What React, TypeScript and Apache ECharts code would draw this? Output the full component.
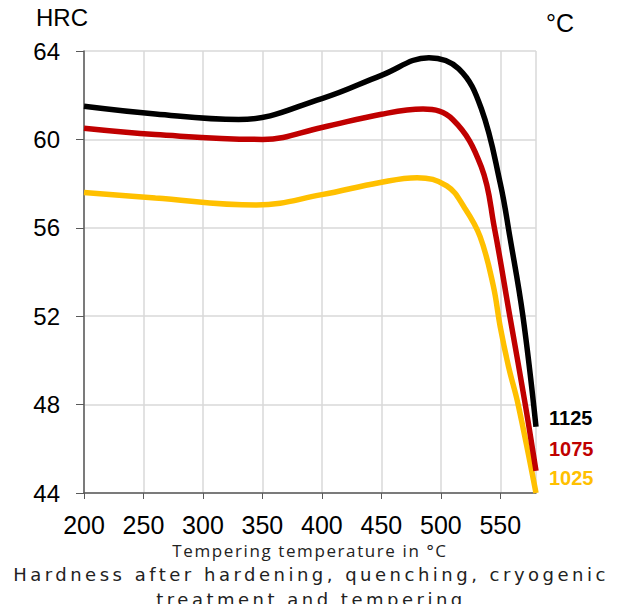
import React, { useEffect, useRef } from "react";
import * as echarts from "echarts";

const temps1125 = [200, 260, 330, 400, 450, 490, 515, 534, 550, 558, 569, 580];
const hrc1125 = [61.5, 61.15, 60.9, 61.85, 62.9, 63.7, 63.2, 61.4, 58.0, 55.6, 52.0, 47.0];

const temps1075 = [200, 260, 350, 400, 450, 485, 510, 534, 545, 558, 571, 580];
const hrc1075 = [60.5, 60.22, 60.0, 60.54, 61.14, 61.37, 60.9, 58.76, 56.0, 52.0, 48.0, 45.0];

const temps1025 = [200, 260, 345, 400, 448, 480, 505, 520, 533, 544, 550, 557, 565, 580];
const hrc1025 = [57.6, 57.35, 57.03, 57.5, 58.04, 58.27, 57.9, 56.9, 55.6, 53.4, 51.5, 49.7, 48.0, 44.0];

const seriesNames = ["1125", "1075", "1025"];
const seriesColors = ["#000000", "#c00000", "#ffc000"];
const labelOffsets = [-9, -22, -15];

const yTicks = { min: 44, max: 64, interval: 4 };
const xTicks = { min: 200, max: 580, interval: 50 };

const titleText = "Hardness after hardening, quenching, cryogenic\ntreatment and tempering";
const xAxisName = "Tempering temperature in °C";

function pairs(xs: number[], ys: number[]) {
  return xs.map((x, i) => [x, ys[i]]);
}

export default function App() {
  const ref = useRef<HTMLDivElement>(null);
  useEffect(() => {
    if (!ref.current) return;
    const chart = echarts.init(ref.current, undefined, { renderer: "svg" });
    const datasets = [
      pairs(temps1125, hrc1125),
      pairs(temps1075, hrc1075),
      pairs(temps1025, hrc1025),
    ];
    chart.setOption({
      animation: false,
      backgroundColor: "#ffffff",
      title: {
        text: titleText,
        left: "center",
        top: 557,
        textStyle: {
          fontFamily: "DejaVu Sans",
          fontSize: 18,
          fontWeight: "normal",
          color: "#222222",
          lineHeight: 25,
        },
      },
      grid: { left: 84, top: 51, right: 86, bottom: 119 },
      xAxis: {
        type: "value",
        min: xTicks.min,
        max: xTicks.max,
        interval: xTicks.interval,
        name: xAxisName,
        nameLocation: "middle",
        nameGap: 48,
        nameTextStyle: { fontFamily: "Open Sans", fontSize: 17, color: "#222222" },
        axisLine: { show: true, lineStyle: { color: "#595959", width: 1.5 } },
        axisTick: { show: true, length: 6, lineStyle: { color: "#595959" } },
        axisLabel: {
          showMaxLabel: false,
          fontFamily: "Liberation Sans",
          fontSize: 25,
          color: "#000000",
          margin: 19,
        },
        splitLine: { show: true, lineStyle: { color: "#d9d9d9", width: 1.5 } },
      },
      yAxis: {
        type: "value",
        min: yTicks.min,
        max: yTicks.max,
        interval: yTicks.interval,
        axisLine: { show: true, lineStyle: { color: "#595959", width: 1.5 } },
        axisTick: { show: true, length: 8, lineStyle: { color: "#595959" } },
        axisLabel: {
          fontFamily: "Liberation Sans",
          fontSize: 24,
          color: "#000000",
          margin: 24,
        },
        splitLine: { show: true, lineStyle: { color: "#d9d9d9", width: 1.5 } },
      },
      graphic: [
        {
          type: "text",
          left: 36,
          top: 5,
          style: { text: "HRC", font: "24px 'Liberation Sans'", fill: "#000000" },
        },
        {
          type: "text",
          left: 546,
          top: 10,
          style: { text: "°C", font: "25px 'Liberation Sans'", fill: "#000000" },
        },
      ],
      series: datasets.map((d, i) => ({
        type: "line",
        name: seriesNames[i],
        data: d,
        smooth: 0.4,
        showSymbol: false,
        symbol: "none",
        lineStyle: { color: seriesColors[i], width: 5.5 },
        itemStyle: { color: seriesColors[i] },
        endLabel: {
          show: true,
          formatter: "{a}",
          color: seriesColors[i],
          fontFamily: "Liberation Sans",
          fontWeight: "bold",
          fontSize: 20,
          distance: 5,
          offset: [8, labelOffsets[i]],
        },
        z: 3 - i,
      })),
    });
    return () => chart.dispose();
  }, []);
  return (
    <div>
      <style>{`.hrc-chart text[style*="DejaVu"], .hrc-chart text[font-family*="DejaVu"] { letter-spacing: 3.5px; }
.hrc-chart text[style*="Open Sans"], .hrc-chart text[font-family*="Open Sans"] { letter-spacing: 1.6px; }`}</style>
      <div className="hrc-chart" ref={ref} style={{ width: 622, height: 612, margin: -8 }} />
    </div>
  );
}
